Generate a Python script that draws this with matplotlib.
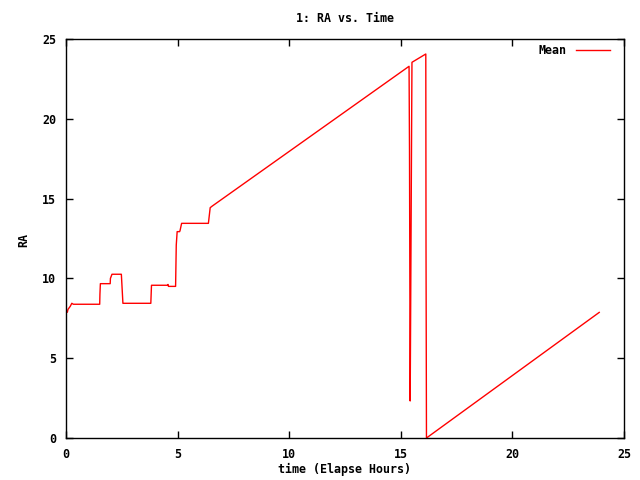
import matplotlib
matplotlib.use("Agg")
import matplotlib.pyplot as plt

# Elapsed hours and mean RA
time_h = [0.00, 0.06, 0.09, 0.19, 0.26, 0.33, 1.51, 1.52, 1.54, 1.98, 1.99, 2.06,
          2.48, 2.55, 3.80, 3.83, 4.55, 4.57, 4.59, 4.91, 4.94, 4.98, 5.09, 5.11,
          5.18, 6.38, 6.46, 6.54, 15.37, 15.39, 15.42, 15.44, 15.46,
          15.50, 16.12, 16.13, 16.15, 23.89]
ra_mean = [7.88, 7.88, 8.06, 8.25, 8.44, 8.38, 8.38, 9.00, 9.67, 9.67, 10.00, 10.26,
           10.26, 8.44, 8.44, 9.57, 9.57, 9.62, 9.50, 9.50, 12.09, 12.93, 12.93, 13.00,
           13.45, 13.45, 14.43, 14.52, 23.29, 18.05, 2.32, 7.60, 12.93,
           23.54, 24.06, 12.03, 0.00, 7.87]

x_ticks = [0, 5, 10, 15, 20, 25]
y_ticks = [0, 5, 10, 15, 20, 25]

plt.rcParams['font.family'] = ['DejaVu Sans Mono']
plt.rcParams['font.weight'] = 'bold'
fs = 8.4

fig = plt.figure(figsize=(6.4, 4.8), dpi=100)
ax_l, ax_r, ax_b, ax_t = 66, 624, 438, 39
ax = fig.add_axes([ax_l/640, (480-ax_b)/480, (ax_r-ax_l)/640, (ax_b-ax_t)/480])

ax.plot(time_h, ra_mean, color='#ff0000', lw=1.0, label='Mean')

ax.set_xlim(0, 25)
ax.set_ylim(0, 25)
ax.set_xticks(x_ticks)
ax.set_yticks(y_ticks)
ax.set_xticklabels([str(t) for t in x_ticks], fontsize=fs, fontweight='bold')
ax.set_yticklabels([str(t) for t in y_ticks], fontsize=fs, fontweight='bold')
ax.tick_params(direction='in', length=5, width=1, top=True, right=True,
               pad=7, colors='black')
for s in ax.spines.values():
    s.set_linewidth(1.0)
    s.set_color('black')

cx = (ax_l + ax_r) / 2 / 640
fig.text(cx, 1 - 18/480, '1: RA vs. Time', ha='center', va='center',
         fontsize=fs, fontweight='bold')
fig.text(cx, 1 - 469/480, 'time (Elapse Hours)', ha='center', va='center',
         fontsize=fs, fontweight='bold')
fig.text(24/640, 1 - 240/480, 'RA', ha='center', va='center', rotation=90,
         fontsize=fs, fontweight='bold')

leg = ax.legend(loc='upper right', bbox_to_anchor=(0.983, 1.0), frameon=False,
                markerfirst=False, prop={'size': fs, 'weight': 'bold'},
                handlelength=2.9, borderaxespad=0.0, handletextpad=0.8)

fig.savefig('out.png', dpi=100)
